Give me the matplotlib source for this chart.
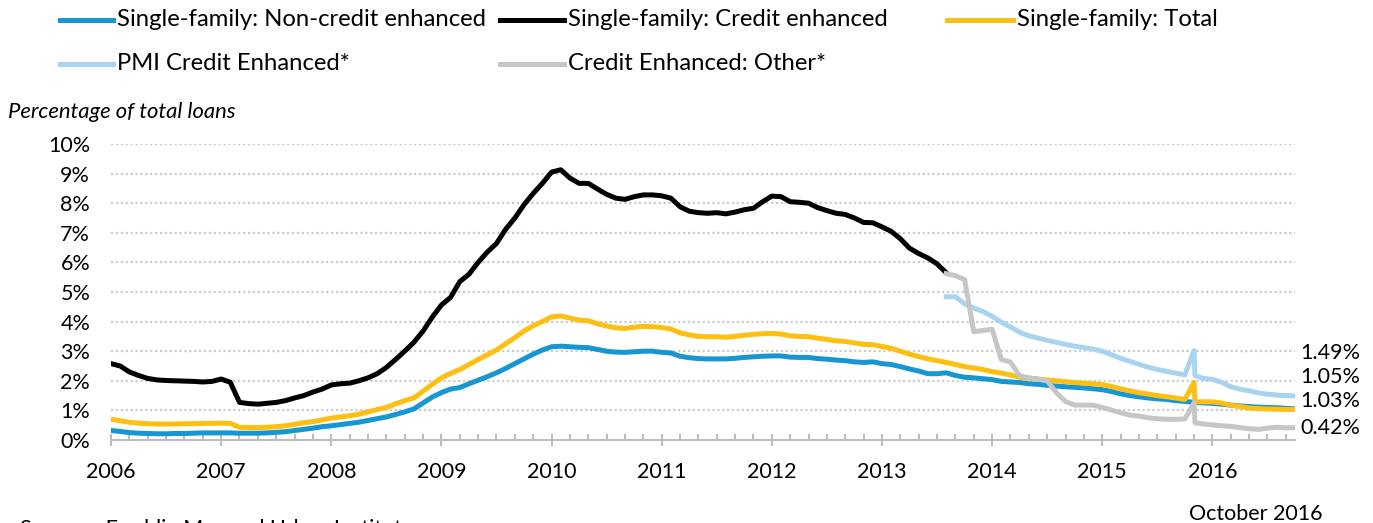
import numpy as np
import matplotlib.pyplot as plt

plt.rcParams['font.family'] = ['Lato', 'DejaVu Sans']

# x positions: months since Jan 2006 (Nov 2015 spike falls back within the month -> 118.1)
months = np.r_[np.arange(0, 119), 118.1, np.arange(119, 130)]
years = list(range(2006, 2017))

# Single-family: Credit enhanced, Jan 2006 - Aug 2013
credit_enh = [2.58, 2.50, 2.30, 2.18, 2.08, 2.03, 2.01, 2.00, 1.99, 1.98, 1.96, 1.98,
              2.06, 1.95, 1.27, 1.23, 1.21, 1.24, 1.27, 1.33, 1.42, 1.50, 1.62, 1.72,
              1.86, 1.90, 1.92, 2.00, 2.10, 2.24, 2.45, 2.72, 3.00, 3.30, 3.68, 4.15,
              4.56, 4.82, 5.35, 5.60, 6.00, 6.35, 6.64, 7.12, 7.50, 7.95, 8.33, 8.67,
              9.05, 9.13, 8.85, 8.67, 8.67, 8.48, 8.30, 8.17, 8.13, 8.22, 8.28, 8.28,
              8.25, 8.17, 7.88, 7.73, 7.68, 7.66, 7.68, 7.64, 7.70, 7.78, 7.83, 8.05,
              8.24, 8.22, 8.05, 8.03, 8.00, 7.85, 7.75, 7.66, 7.62, 7.50, 7.35, 7.34,
              7.20, 7.05, 6.80, 6.48, 6.30, 6.15, 5.95, 5.65]

# Single-family: Non-credit enhanced
non_credit = [0.32, 0.29, 0.25, 0.23, 0.22, 0.21, 0.21, 0.22, 0.22, 0.23, 0.24, 0.24,
              0.24, 0.24, 0.23, 0.23, 0.23, 0.24, 0.26, 0.28, 0.32, 0.36, 0.40, 0.45,
              0.48, 0.52, 0.56, 0.60, 0.66, 0.72, 0.78, 0.86, 0.95, 1.05, 1.25, 1.45,
              1.60, 1.72, 1.77, 1.90, 2.02, 2.14, 2.27, 2.42, 2.58, 2.74, 2.90, 3.04,
              3.15, 3.17, 3.15, 3.13, 3.12, 3.06, 3.00, 2.97, 2.96, 2.98, 3.00, 3.00,
              2.96, 2.94, 2.83, 2.78, 2.75, 2.74, 2.74, 2.74, 2.76, 2.79, 2.81, 2.83,
              2.84, 2.84, 2.80, 2.79, 2.79, 2.75, 2.73, 2.70, 2.68, 2.64, 2.62, 2.64,
              2.58, 2.55, 2.48, 2.40, 2.33, 2.24, 2.24, 2.27, 2.18, 2.12, 2.10, 2.07,
              2.04, 1.98, 1.96, 1.94, 1.90, 1.88, 1.85, 1.82, 1.80, 1.78, 1.76, 1.73,
              1.70, 1.64, 1.56, 1.50, 1.46, 1.42, 1.39, 1.37, 1.33, 1.30, 1.27, 1.27, 1.25,
              1.24, 1.21, 1.18, 1.15, 1.13, 1.11, 1.10, 1.09, 1.07, 1.05]

# Single-family: Total
total = [0.70, 0.65, 0.60, 0.57, 0.55, 0.54, 0.54, 0.54, 0.55, 0.55, 0.56, 0.56,
         0.57, 0.56, 0.43, 0.42, 0.42, 0.43, 0.45, 0.48, 0.53, 0.58, 0.62, 0.68,
         0.74, 0.78, 0.82, 0.87, 0.95, 1.03, 1.10, 1.22, 1.33, 1.42, 1.65, 1.88,
         2.10, 2.25, 2.38, 2.55, 2.72, 2.88, 3.04, 3.25, 3.46, 3.68, 3.86, 4.00,
         4.16, 4.19, 4.12, 4.05, 4.03, 3.93, 3.85, 3.79, 3.77, 3.81, 3.84, 3.83,
         3.80, 3.75, 3.62, 3.55, 3.50, 3.49, 3.49, 3.47, 3.50, 3.54, 3.57, 3.59,
         3.60, 3.58, 3.52, 3.50, 3.49, 3.44, 3.40, 3.35, 3.33, 3.28, 3.23, 3.22,
         3.16, 3.10, 3.00, 2.90, 2.82, 2.74, 2.68, 2.62, 2.55, 2.48, 2.43, 2.38,
         2.31, 2.26, 2.20, 2.12, 2.09, 2.06, 2.03, 2.00, 1.97, 1.94, 1.92, 1.90,
         1.87, 1.81, 1.73, 1.66, 1.60, 1.55, 1.50, 1.46, 1.42, 1.37, 1.94, 1.29, 1.29,
         1.29, 1.25, 1.18, 1.13, 1.08, 1.06, 1.05, 1.04, 1.03, 1.03]

# PMI Credit Enhanced*, Aug 2013 onwards
pmi = [4.84, 4.84, 4.60, 4.46, 4.34, 4.18, 3.98, 3.82, 3.64, 3.52, 3.44, 3.37,
       3.30, 3.23, 3.17, 3.12, 3.07, 3.00, 2.88, 2.76, 2.66, 2.56, 2.46, 2.38,
       2.32, 2.26, 2.20, 3.02, 2.18,
       2.08, 2.05, 1.95, 1.80, 1.72, 1.66, 1.59, 1.55, 1.52, 1.50, 1.49]

# Credit Enhanced: Other*, Aug 2013 onwards
other = [5.62, 5.55, 5.42, 3.66, 3.70, 3.74, 2.72, 2.63, 2.17, 2.10, 2.06, 2.00,
         1.60, 1.30, 1.18, 1.18, 1.18, 1.10, 1.01, 0.92, 0.84, 0.81, 0.75, 0.72,
         0.70, 0.70, 0.71, 1.26, 0.58,
         0.54, 0.51, 0.48, 0.46, 0.42, 0.38, 0.36, 0.40, 0.43, 0.41, 0.42]

end_labels = ['1.49%', '1.05%', '1.03%', '0.42%']

blue, black, yellow, lblue, grey = '#1696d2', '#000000', '#fdbf11', '#a9d4ef', '#c6c6c6'

fig = plt.figure(figsize=(13.73, 5.23), dpi=100)
ax = fig.add_axes([111/1373, 83/523, 1184/1373, 296/523])

lw = 3.6
ax.plot(months, non_credit, color=blue, lw=lw, zorder=3, solid_joinstyle='round')
ax.plot(months[:len(credit_enh)], credit_enh, color=black, lw=lw, zorder=4, solid_joinstyle='round')
ax.plot(months, total, color=yellow, lw=lw, zorder=5, solid_joinstyle='round')
ax.plot(months[91:], pmi, color=lblue, lw=lw, zorder=6, solid_joinstyle='round')
ax.plot(months[91:], other, color=grey, lw=lw, zorder=7, solid_joinstyle='round')

ax.set_xlim(0, 129)
ax.set_ylim(0, 10)
ax.set_yticks(range(0, 11))
ax.set_yticklabels(['%d%%' % v for v in range(0, 11)])
ax.set_xticks([12 * i for i in range(len(years))])
ax.set_xticklabels([str(y) for y in years])
ax.set_xticks(range(0, 130, 2), minor=True)

for s in ['top', 'right', 'left']:
    ax.spines[s].set_visible(False)
ax.spines['bottom'].set_color('#bdbdbd')
ax.spines['bottom'].set_linewidth(1.5)

ax.tick_params(axis='y', length=0, pad=15, labelsize=15.5, colors='#000000')
ax.tick_params(axis='x', which='major', direction='inout', length=8, width=1.5,
               color='#bdbdbd', pad=12, labelsize=15.5)
ax.tick_params(axis='x', which='minor', direction='in', length=4, width=1.5, color='#bdbdbd')

ax.yaxis.grid(True, linestyle=(0, (1, 1.2)), color='#cccccc', lw=1.6)
ax.set_axisbelow(True)
for gl in ax.yaxis.get_gridlines()[:1]:
    gl.set_visible(False)

# value labels at right end
for lab, ypos in zip(end_labels, [2.95, 2.14, 1.33, 0.42]):
    ax.text(129.6, ypos, lab, fontsize=15.5, va='center', ha='left', clip_on=False)

# legend, drawn by hand to match the layout
legend_items = [
    (60, 117, 20, blue, 'Single-family: Non-credit enhanced'),
    (500, 568, 20, black, 'Single-family: Credit enhanced'),
    (947, 1017, 20, yellow, 'Single-family: Total'),
    (60, 117, 64, lblue, 'PMI Credit Enhanced*'),
    (500, 568, 64, grey, 'Credit Enhanced: Other*'),
]
for hx, tx, ry, col, lab in legend_items:
    fy = 1 - ry / 523
    fig.add_artist(plt.Line2D([hx / 1373, (tx - 4) / 1373], [fy, fy], color=col, lw=lw))
    fig.text(tx / 1373, fy, lab, fontsize=17.2, va='center', ha='left')

fig.text(8 / 1373, 1 - 112 / 523, 'Percentage of total loans', fontsize=15.8,
         style='italic', va='center', ha='left')
fig.text(1189 / 1373, 1 - 514 / 523, 'October 2016', fontsize=15.5, va='center', ha='left')
fig.text(20 / 1373, 1 - 519 / 523, 'Sources: Freddie Mac and Urban Institute.', fontsize=15.5,
         va='top', ha='left')

fig.savefig('out.png', dpi=100)
